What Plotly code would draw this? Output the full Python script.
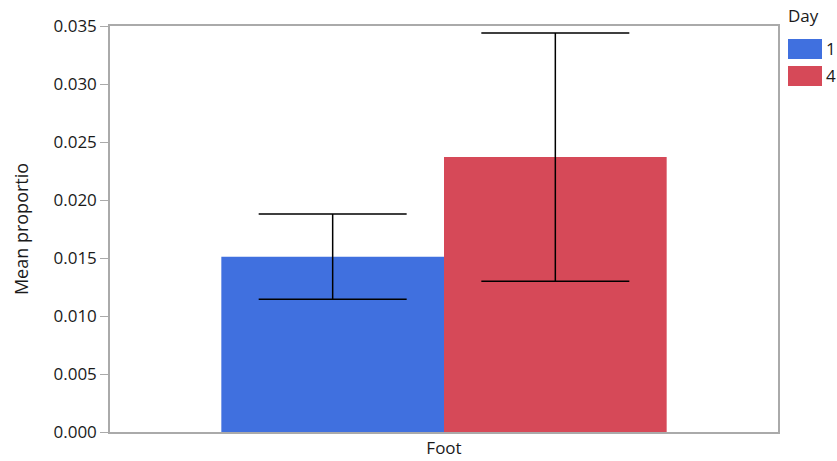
import plotly.graph_objects as go

categories = ["Foot"]
days = ["1", "4"]
means = [0.0151, 0.0237]
err_upper = [0.0188, 0.0344]
err_lower = [0.01145, 0.0130]
colors = ["#4070DF", "#D64958"]

fig = go.Figure()
for d, m, hi, lo, c in zip(days, means, err_upper, err_lower, colors):
    fig.add_trace(go.Bar(
        x=categories, y=[m], name=d, marker=dict(color=c, line=dict(width=0)),
        error_y=dict(type="data", symmetric=False, array=[hi - m], arrayminus=[m - lo],
                     color="black", thickness=1.5, width=74),
        showlegend=False,
    ))

# legend drawn as swatches + labels in paper coordinates
L, T, B, W = 110, 26, 432, 668
def px(x):
    return (x - L) / W
def py(y):
    return (B - y) / (B - T)

sw_tops = [39, 66]
for d, c, yt in zip(days, colors, sw_tops):
    fig.add_shape(type="rect", xref="paper", yref="paper",
                  x0=px(788), x1=px(822), y0=py(yt + 20), y1=py(yt),
                  fillcolor=c, line=dict(width=0))
    fig.add_annotation(text=d, xref="paper", yref="paper", x=px(824), y=py(yt + 10),
                       xanchor="left", yanchor="middle", showarrow=False,
                       font=dict(size=17))
fig.add_annotation(text="Day", xref="paper", yref="paper", x=px(786), y=py(15),
                   xanchor="left", yanchor="middle", showarrow=False, font=dict(size=17))

font = "Segoe UI, Open Sans, Noto Sans, sans-serif"
fig.update_layout(
    width=837, height=461,
    margin=dict(l=110, r=59, t=26, b=29, autoexpand=False),
    barmode="group", bargap=1/3, bargroupgap=0,
    plot_bgcolor="white", paper_bgcolor="white",
    font=dict(family=font, size=17, color="#1a1a1a"),
    xaxis=dict(showline=True, linecolor="#aaaaaa", linewidth=1.5, mirror=True,
               ticks="", showgrid=False, automargin=False),
    yaxis=dict(range=[0, 0.035], dtick=0.005, tickformat=".3f", showline=True,
               linecolor="#aaaaaa", linewidth=1.5, mirror=True, ticks="outside",
               ticklen=8, tickcolor="#aaaaaa", showgrid=False, zeroline=False,
               automargin=False,
               title=dict(text="Mean proportio", standoff=20, font=dict(size=18))),
)
fig.write_html("out.html", config={"displayModeBar": False},
               post_script="document.body.style.margin='0';document.body.style.overflow='hidden';")
